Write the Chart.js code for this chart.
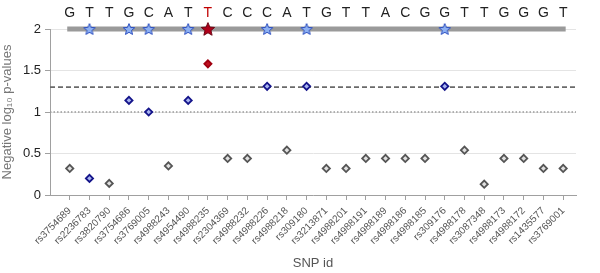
<!DOCTYPE html>
<html>
<head>
<meta charset="utf-8">
<script src="https://cdn.jsdelivr.net/npm/chart.js@4"></script>
<style>
  html, body { margin: 0; padding: 0; background: #fff; }
  #wrap { width: 600px; height: 273px; }
</style>
</head>
<body>
<div id="wrap"><canvas id="chart"></canvas></div>
<script>
const snpIds = [
  'rs3754689', 'rs2236783', 'rs3820790', 'rs3754686', 'rs3769005', 'rs4988243',
  'rs4954490', 'rs4988235', 'rs2304369', 'rs4988232', 'rs4988226', 'rs4988218',
  'rs309180', 'rs3213871', 'rs4988201', 'rs4988191', 'rs4988189', 'rs4988186',
  'rs4988185', 'rs309176', 'rs4988178', 'rs3087348', 'rs4988173', 'rs4988172',
  'rs1435577', 'rs3769001',
]
const negLogP = [
  0.32, 0.2, 0.14, 1.14, 1.0, 0.35, 1.14, 1.58, 0.44, 0.44, 1.31, 0.54, 1.31,
  0.32, 0.32, 0.44, 0.44, 0.44, 0.44, 1.31, 0.54, 0.13, 0.44, 0.44, 0.32, 0.32,
]
// 'o' = other, 'a' = associated (blue), 't' = top hit (red)
const snpGroup = [
  'o', 'a', 'o', 'a', 'a', 'o', 'a', 't', 'o', 'o', 'a', 'o', 'a',
  'o', 'o', 'o', 'o', 'o', 'o', 'a', 'o', 'o', 'o', 'o', 'o', 'o',
]
const sequence = [
  'G', 'T', 'T', 'G', 'C', 'A', 'T', 'T', 'C', 'C', 'C', 'A', 'T',
  'G', 'T', 'T', 'A', 'C', 'G', 'G', 'T', 'T', 'G', 'G', 'G', 'T',
]
const yMax = 2
const xMax = 26.65
const dashedLevel = 1.3
const dottedLevel = 1

const FONT = "'Liberation Sans', Arial, sans-serif"

function makeStar(fill, stroke, size) {
  const c = document.createElement('canvas')
  c.width = size
  c.height = size
  const g = c.getContext('2d')
  const cx = size / 2
  const cy = size / 2 + 0.6
  const R = size / 2 - 1
  const r = R * 0.45
  g.beginPath()
  for (let i = 0; i < 10; i++) {
    const a = -Math.PI / 2 + (i * Math.PI) / 5
    const rad = i % 2 ? r : R
    g.lineTo(cx + rad * Math.cos(a), cy + rad * Math.sin(a))
  }
  g.closePath()
  g.fillStyle = fill
  g.fill()
  g.lineWidth = 1
  g.strokeStyle = stroke
  g.stroke()
  return c
}

const blueStar = makeStar('#8db0f2', '#2c4fc0', 14)
const redStar = makeStar('#b0001a', '#6a0010', 16)

const pointBorder = { o: '#555555', a: '#14148a', t: '#a00010' }
const pointFill = { o: '#e0e0e0', a: '#a8b4f0', t: '#c01020' }

const starIdx = snpGroup.map((g, i) => (g === 'o' ? -1 : i)).filter((i) => i >= 0)

new Chart(document.getElementById('chart'), {
  type: 'scatter',
  data: {
    datasets: [
      {
        label: 'stars',
        data: starIdx.map((i) => ({ x: i + 1, y: yMax })),
        pointStyle: starIdx.map((i) => (snpGroup[i] === 't' ? redStar : blueStar)),
        clip: false,
        order: 0,
      },
      {
        label: 'snps',
        data: negLogP.map((v, i) => ({ x: i + 1, y: v })),
        pointStyle: 'rectRot',
        pointRadius: 3.6,
        borderWidth: 1.8,
        pointBorderColor: snpGroup.map((g) => pointBorder[g]),
        pointBackgroundColor: snpGroup.map((g) => pointFill[g]),
        clip: false,
        order: 1,
      },
      {
        label: 'sequence bar',
        data: [{ x: 1, y: yMax }, { x: sequence.length, y: yMax }],
        showLine: true,
        pointRadius: 0,
        borderColor: '#9a9a9a',
        borderWidth: 5,
        borderCapStyle: 'square',
        clip: false,
        order: 2,
      },
      {
        label: 'threshold',
        data: [{ x: 0, y: dashedLevel }, { x: xMax, y: dashedLevel }],
        showLine: true,
        pointRadius: 0,
        borderColor: '#6a6a6a',
        borderWidth: 1.8,
        borderDash: [5, 3],
        order: 3,
      },
      {
        label: 'nominal',
        data: [{ x: 0, y: dottedLevel }, { x: xMax, y: dottedLevel }],
        showLine: true,
        pointRadius: 0,
        borderColor: '#9a9a9a',
        borderWidth: 1.5,
        borderDash: [1.5, 2],
        order: 4,
      },
    ],
  },
  options: {
    responsive: true,
    maintainAspectRatio: false,
    animation: false,
    layout: { padding: { left: 0, right: 24, top: 0, bottom: 0 } },
    plugins: {
      legend: { display: false },
      tooltip: { enabled: false },
    },
    scales: {
      x: {
        type: 'linear',
        min: 0,
        max: xMax,
        afterBuildTicks: (s) => {
          s.ticks = snpIds.map((_, i) => ({ value: i + 1 }))
        },
        afterFit: (s) => {
          s.height = 78
        },
        ticks: {
          autoSkip: false,
          minRotation: 45,
          maxRotation: 45,
          padding: 5,
          color: '#555',
          font: { family: FONT, size: 10 },
          callback: (v) => snpIds[v - 1],
        },
        grid: { drawOnChartArea: false, tickLength: 5, tickColor: '#a0a0a0' },
        border: { color: '#a0a0a0' },
        title: {
          display: true,
          text: 'SNP id',
          color: '#555',
          font: { family: FONT, size: 13 },
          padding: { top: 0, bottom: 2 },
        },
      },
      x2: {
        type: 'linear',
        position: 'top',
        min: 0,
        max: xMax,
        afterBuildTicks: (s) => {
          s.ticks = sequence.map((_, i) => ({ value: i + 1 }))
        },
        afterFit: (s) => {
          s.height = 29
        },
        ticks: {
          autoSkip: false,
          maxRotation: 0,
          padding: 7,
          color: (ctx) => (snpGroup[ctx.index] === 't' ? '#c00000' : '#222'),
          font: { family: FONT, size: 14 },
          callback: (v) => sequence[v - 1],
        },
        grid: { display: false, drawTicks: false },
        border: { display: false },
      },
      y: {
        min: 0,
        max: yMax,
        afterFit: (s) => {
          s.width = 50
        },
        ticks: {
          stepSize: 0.5,
          padding: 4,
          color: '#222',
          font: { family: FONT, size: 13 },
          callback: (v) => String(v),
        },
        grid: { color: '#e4e4e4', tickLength: 5, tickColor: '#a0a0a0' },
        border: { color: '#a0a0a0' },
        title: {
          display: true,
          text: 'Negative log₁₀ p-values',
          color: '#777',
          font: { family: FONT, size: 13 },
          padding: { top: 0, bottom: 4 },
        },
      },
    },
  },
})
</script>
</body>
</html>
